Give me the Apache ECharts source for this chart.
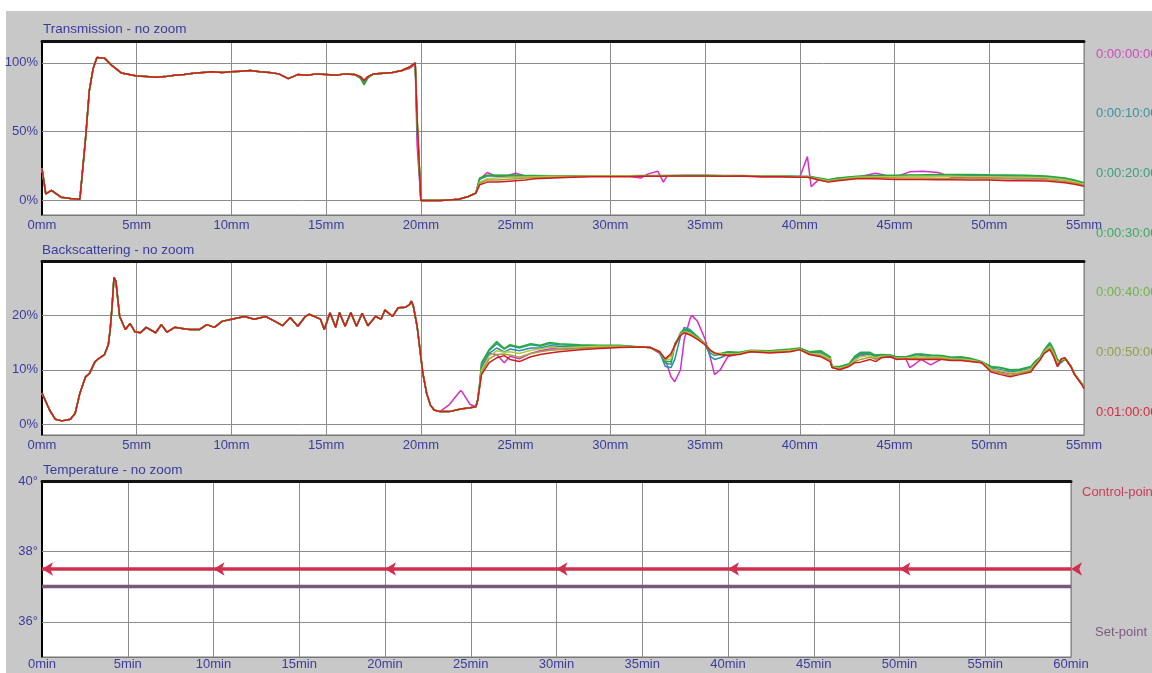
<!DOCTYPE html>
<html><head><meta charset="utf-8">
<script src="https://cdn.jsdelivr.net/npm/echarts@6/dist/echarts.min.js"></script>
<style>html,body{margin:0;padding:0;background:#fff}#c{width:1152px;height:673px}</style>
</head><body><div id="c"></div>
<script>
const TEXT_BLUE = '#3c3c9c';

const seriesNames = ['0:00:00:00','0:00:10:00','0:00:20:00','0:00:30:00','0:00:40:00','0:00:50:00','0:01:00:00'];
const lineColors = ['#d82cc8','#2a8ca8','#2aa08a','#28a83c','#b8c83c','#a0a040','#d01c1c'];
const legendColors = ['#d048c0','#3a92a0','#3aa07a','#3aaa64','#70b448','#92a048','#d8283c'];

// ---------- Transmission (%), positions in mm ----------
const transPosMm = [0,0.2,0.5,1,1.5,2,2.1,2.3,2.5,2.7,
 2.9,3.3,3.7,4.2,5,5.5,6,6.5,7,7.5,
 8,8.5,9,9.5,10,10.5,11,11.5,12,12.5,
 13,13.5,14,14.5,15,15.5,16,16.5,
 16.8,17,17.2,17.5,18,18.5,19,19.4,19.7,19.8,
 20,20.5,21,21.5,22,22.5,22.9,23.1,23.5,24,
 24.5,25,25.5,26,27,28,29,30,31,31.6,
 32,32.5,32.8,33,34,35,36,37,38,39,
 40,40.4,40.6,41,41.5,42,43,44,45,45.8,
 46.5,47.3,48,49,50,51,52,53,54,54.5,
 55];
// shared part (0 - 16.5 mm), identical for all runs
const transCommon = [22.8,4.4,7,2,1,0.5,0.8,45,80,96,
 104,103.5,98,92.6,90.5,90,89.5,90,91,91.5,
 92.5,93,93.5,93,93.5,94,94.5,93.5,93,92,
 88.5,91.5,91,92,91.5,91,92,91.5];
const trans0000 = [90,87.5,90,92,92.5,93,94.5,96,99,40,
 -0.5,-0.5,-0.5,0,0.5,2.5,5,15,20,17,
 17.5,19.5,17.5,17.3,17.3,17.3,17.3,17.3,17.3,16,
 19,21,13,17.5,17.5,17.6,17.2,17.3,17,17,
 16.8,31.6,9.6,15,14,15,16.5,19.5,16.5,20.5,
 21,20,16.5,16.5,16.3,16,16,15.8,14.5,13,
 11];
const trans0010 = [89.5,86,89.5,92,92.5,93,94.5,97,100,52,
 -0.5,-0.5,-0.5,0,0.5,2.5,5,15,17.5,17.5,
 17.5,17.6,17.5,17.5,17.4,17.4,17.5,17.5,17.5,17.5,
 17.5,17.5,17.5,17.5,17.7,17.7,17.4,17.5,17.2,17.2,
 16.9,16.9,16.6,15.5,14.3,15.5,16.8,17.2,17.4,17.6,
 17.7,17.8,17.7,17.6,17.4,17.2,17,16.6,15,13.5,
 11.5];
const trans0020 = [89,85,89,92,92.5,93,94.5,97,100,56,
 -0.5,-0.5,-0.5,0,0.5,2.5,5,15.5,17.8,17.8,
 17.8,17.8,17.6,17.6,17.5,17.5,17.6,17.6,17.6,17.6,
 17.6,17.6,17.6,17.6,17.8,17.8,17.6,17.6,17.3,17.3,
 17,17,16.8,15.8,14.6,15.8,17,17.5,17.7,17.9,
 18,18.1,18.1,18,17.8,17.6,17.4,17,15.5,14,
 12];
const trans0030 = [89,84,89,92,92.5,93,94.5,97,100,58,
 -0.5,-0.5,-0.5,0,0.5,2.5,5,16,18,18,
 18,18,17.8,17.8,17.6,17.6,17.7,17.7,17.7,17.8,
 17.8,17.8,17.8,17.8,18,18,17.8,17.8,17.5,17.5,
 17.3,17.3,17,16,14.8,16,17.2,17.8,18,18.2,
 18.3,18.5,18.5,18.5,18.3,18.2,18,17.5,16,14.5,
 12.5];
const trans0040 = [90,87,90,92,92.5,93,94.5,97,100,60,
 -0.5,-0.5,-0.5,0,0.5,2.5,5,13,15.5,16,
 16.3,16.6,16.8,17,17.2,17.3,17.4,17.4,17.4,17.5,
 17.5,17.5,17.5,17.6,17.7,17.7,17.4,17.6,17.2,17.2,
 16.8,16.8,16.4,15.2,13.8,15,16.5,17,17,17.2,
 17.2,17.2,17.2,17,17,16.8,16.6,16.2,14.8,13.3,
 11.5];
const trans0050 = [90,87,90,92,92.5,93,94.5,97,100,60,
 -0.5,-0.5,-0.5,0,0.5,2.5,5,12,14.5,14.5,
 15,15.5,16,16.3,16.6,17,17.2,17.2,17.2,17.3,
 17.4,17.4,17.4,17.5,17.6,17.6,17.3,17.5,17.1,17.1,
 16.6,16.6,16.2,14.8,13.4,14.5,16,16.3,16,16,
 16,15.8,15.8,15.6,15.5,15.2,15,14.8,13.5,12.3,
 10.8];
const trans0100 = [90,87,90,92,92.5,93,94.5,97,100,60,
 -0.5,-0.5,-0.5,0,0.5,2.5,5,11,13,13,
 13.5,14,14.5,15.5,16,16.5,17,17,17,17.2,
 17.3,17.3,17.3,17.4,17.5,17.5,17.2,17.5,17,17,
 16.5,16.5,16,14.5,13,14,15.5,15.5,15,15,
 15,14.8,14.8,14.5,14.5,14,14,13.8,12.5,11.5,
 10];

// ---------- Backscattering (%), positions in mm ----------
const backPosMm = [0,0.4,0.7,1.05,1.5,1.75,2,2.3,2.5,2.8,
 3.05,3.3,3.5,3.6,3.7,3.8,3.9,4.0,4.1,4.4,
 4.65,4.9,5.2,5.5,6.0,6.3,6.6,7.0,7.4,7.8,
 8.3,8.7,9.1,9.5,10,10.7,11.2,11.8,12.3,12.7,
 13.1,13.5,13.9,14.1,14.7,14.9,15.2,15.5,15.7,16.0,
 16.3,16.6,16.9,17.2,17.6,17.9,18.1,18.5,18.8,19.2,
 19.4,19.5,19.6,19.8,19.95,20.1,20.3,20.5,20.7,21,
 21.5,22.1,22.2,22.6,22.9,23.0,23.1,23.2,23.6,24.0,
 24.4,24.7,25.2,25.8,26.3,26.8,27.3,28.4,29.4,30.5,
 31.6,32.1,32.6,32.9,33.2,33.4,33.7,33.9,34.2,34.3,
 34.6,35.0,35.3,35.5,35.8,36.2,36.8,37.4,38.4,39.5,
 40,40.5,41.1,41.6,41.7,42.1,42.6,42.9,43.2,43.7,
 44,44.3,44.8,45.1,45.6,45.8,46.1,46.4,46.9,47.5,
 48,48.5,49,49.6,50.1,50.6,51.1,51.6,52.2,52.4,
 52.7,52.9,53.2,53.4,53.6,53.8,54,54.3,54.5,54.9,
 55];
// shared part (0 - 21 mm)
const backCommon = [5.7,2.6,0.9,0.6,0.9,2,5.7,8.7,9.3,11.5,
 12.2,12.8,14.6,17.4,21.7,27,26.3,23,19.8,17.4,
 18.5,17,16.8,17.8,16.8,18.3,16.9,17.8,17.6,17.4,
 17.4,18.3,17.8,18.9,19.3,19.8,19.3,19.8,18.9,18.1,
 19.6,18,19.8,20.2,19.3,17.4,20.5,17.8,20.5,18,
 20.5,18,20.4,18.1,19.8,19.3,21,19.8,21.4,21.5,
 22,22.6,21.7,18,13.7,9.4,5.7,3.5,2.6,2.3];
const back0000 = [3.6,6.2,5.8,3.6,3.2,4.4,6.9,10,13,12.8,
 11.3,12.5,12,13,13.5,13.8,13.9,14,14.1,14.2,
 14.2,14.1,13,11.9,8.7,7.8,10,15.6,19.3,20,
 18.9,15.6,11.9,9.1,10,12.4,13,13.4,13.2,13.5,
 13.8,13,13,12,10.5,10.3,10.8,11.8,12.5,13,
 12,12.4,12.3,12,12,10.4,11.1,11.9,10.9,12,
 11.9,11.9,11.7,11.3,10,9.6,9.3,9.5,10,11,
 12.1,13.3,14.3,12.5,10.6,11.5,12,10.7,9.2,7.3,
 6.6];
const back0010 = [2.3,2.8,2.9,3,3.2,4.5,7.1,10.5,13,14,
 13.3,13.8,13.5,14,14,14.4,14.3,14.2,14.2,14.3,
 14.2,14.1,13.2,10.6,10.4,11.9,16.1,17.8,17.4,17.2,
 16.1,14.6,12.4,11.9,12.2,12.8,13,13.4,13.3,13.6,
 13.9,13.1,13.2,12,10.5,10.4,10.9,12,12.8,12.9,
 12.4,12.6,12.5,12.2,12.2,12,12.4,12.6,12.3,12.3,
 12,12.1,11.8,11.4,10.3,10,9.6,9.8,10.2,11.2,
 12.2,13.4,14.5,13,11,11.3,12,10.7,9.2,7.3,
 6.6];
const back0020 = [2.3,2.8,2.9,3,3.2,4.5,7.3,11,13.5,14.8,
 13.8,14.4,14,14.6,14.3,14.8,14.6,14.4,14.4,14.4,
 14.2,14.1,13.3,11.2,11,14.3,16.8,17.5,17.2,16.9,
 16,14.7,13,12.6,12.8,13.2,13.1,13.5,13.4,13.7,
 13.9,13.2,13.3,12.2,10.6,10.5,11,12.3,13,13,
 12.6,12.7,12.6,12.3,12.3,12.4,12.7,12.8,12.6,12.5,
 12.2,12.3,12,11.4,10.5,10.3,9.9,10,10.5,11.4,
 12.3,13.6,14.8,13.5,11.7,11.6,12,10.7,9.2,7.3,
 6.6];
const back0030 = [2.3,2.8,2.9,3,3.2,4.6,7.5,11.3,13.7,15.2,
 13.9,14.6,14.2,14.8,14.5,15,14.8,14.6,14.5,14.5,
 14.2,14.1,13.3,11.5,11.5,14.8,16.5,17.3,17,16.8,
 16,14.8,13.5,13,13,13.3,13.2,13.6,13.5,13.8,
 14,13.3,13.5,12.4,10.6,10.6,11.1,12.5,13.2,13.2,
 12.7,12.8,12.7,12.4,12.4,12.6,12.9,12.9,12.7,12.6,
 12.3,12.4,12.1,11.5,10.6,10.4,10,10.1,10.6,11.5,
 12.4,13.7,15,13.7,11.9,11.5,12,10.8,9.3,7.4,
 6.7];
const back0040 = [2.3,2.8,2.9,3,3.2,4.4,7,10,12.5,13.5,
 13.2,13.3,13,13.6,13.8,14.2,14,14.2,14.3,14.3,
 14.2,14.1,13.3,11.8,12,14.3,16.5,17,16.7,16.5,
 15.8,14.7,13.4,13,12.9,12.9,13,13.5,13.3,13.6,
 13.8,13,12.9,12,10.5,10.3,10.8,11.8,12.4,12.6,
 12.2,12.5,12.5,12.1,12.2,12.2,12.4,12.4,12.3,12.3,
 12,12,11.8,11.4,10.1,9.8,9.4,9.6,10.1,11,
 12.1,13.3,14.3,13,11.3,11.8,12.1,10.7,9.2,7.3,
 6.6];
const back0050 = [2.3,2.8,2.9,3,3.2,4.4,6.9,9.5,12,12.8,
 12.9,12.7,12.3,13,13.3,13.6,13.7,13.9,14.1,14.2,
 14.2,14.1,13.3,11.9,12.6,14.4,16.4,16.9,16.5,16.3,
 15.7,14.6,13.5,13,12.8,12.7,12.9,13.4,13.2,13.4,
 13.7,12.9,12.6,11.8,10.4,10.1,10.7,11.5,11.9,12.3,
 11.9,12.3,12.5,12,12.1,12,12.1,12.1,12.1,12.1,
 11.8,11.8,11.6,11.3,9.8,9.4,9,9.3,9.8,10.8,
 12,13.1,14,12.6,10.6,12,12.2,10.6,9.1,7.2,
 6.5];
const back0100 = [2.3,2.8,2.9,3,3.2,4.4,6.9,9.1,11.3,12.2,
 12.6,11.9,11.5,12.4,12.8,13.1,13.3,13.7,13.9,14.1,
 14.2,14.1,13.3,12,13,14.5,16.3,16.8,16.4,16.2,
 15.6,14.6,13.5,13.1,12.8,12.6,12.8,13.3,13.1,13.3,
 13.7,12.8,12.4,11.5,10.4,10,10.6,11.3,11.4,11.9,
 11.5,12.2,12.4,11.9,12,11.9,11.9,11.9,11.9,11.9,
 11.7,11.7,11.5,11.3,9.6,9.1,8.7,9.1,9.6,10.6,
 11.9,13,13.7,12.4,10.6,12,12.2,10.6,9.1,7.2,
 6.5];

// ---------- Temperature ----------
const tempMinutes = [0,10,20,30,40,50,60];
const controlPoint = [37.5,37.5,37.5,37.5,37.5,37.5,37.5];
const setPoint = [37.0,37.0,37.0,37.0,37.0,37.0,37.0];

// ---------- tick labels ----------
const transTicks = [0,50,100];
const backTicks = [0,10,20];
const tempTicks = [36,38,40];

const FONT = "'Liberation Sans', Arial, sans-serif";
const TITLE_SIZE = 13.5;
const TICK_SIZE = 13;
const LEGEND_SIZE = 13;

const transTails = [trans0000,trans0010,trans0020,trans0030,trans0040,trans0050,trans0100];
const backTails = [back0000,back0010,back0020,back0030,back0040,back0050,back0100];

const pair = (xs, ys) => xs.map((x, i) => [x, ys[i]]);

const labelStyle = {color: TEXT_BLUE, fontFamily: FONT, fontSize: TICK_SIZE};

function gridLines(vals) {
  return {
    silent: true, symbol: ['none','none'], z: 1, animation: false,
    label: {show: false},
    lineStyle: {color: '#8c8c8c', width: 1, type: 'solid'},
    emphasis: {disabled: true},
    data: vals.map(v => ({yAxis: v}))
  };
}

function xBottom(gi, max, unit, margin) {
  return {
    gridIndex: gi, type: 'value', min: 0, max: max, interval: 5, position: 'bottom',
    axisLine: {show: true, onZero: false, lineStyle: {color: '#777', width: 1}},
    axisTick: {show: false},
    splitLine: {show: true, lineStyle: {color: '#8c8c8c', width: 1}},
    axisLabel: Object.assign({formatter: v => v + unit, margin: margin, showMinLabel: true, showMaxLabel: true}, labelStyle)
  };
}
function xTop(gi, max) {
  return {
    gridIndex: gi, type: 'value', min: 0, max: max, position: 'top',
    axisLine: {show: true, onZero: false, lineStyle: {color: '#111', width: 3}},
    axisTick: {show: false}, axisLabel: {show: false}, splitLine: {show: false}
  };
}
function yLeft(gi, min, max, ticks, unit) {
  return {
    gridIndex: gi, type: 'value', min: min, max: max,
    axisLine: {show: true, onZero: false, lineStyle: {color: '#000', width: 2}},
    axisTick: {show: false},
    splitLine: {show: false},
    axisLabel: Object.assign({customValues: ticks, formatter: v => v + unit, margin: 4,
      verticalAlign: 'middle', padding: [0,0,8,0]}, labelStyle)
  };
}

const series = [];
seriesNames.forEach((name, i) => {
  const s = {
    name: name, type: 'line', xAxisIndex: 0, yAxisIndex: 0,
    data: pair(transPosMm, transCommon.concat(transTails[i])),
    showSymbol: false, symbol: 'none', animation: false,
    lineStyle: {color: lineColors[i], width: 1.5}, itemStyle: {color: lineColors[i]},
    emphasis: {disabled: true}
  };
  if (i === 0) s.markLine = gridLines(transTicks);
  series.push(s);
});
seriesNames.forEach((name, i) => {
  const s = {
    name: name, type: 'line', xAxisIndex: 2, yAxisIndex: 1,
    data: pair(backPosMm, backCommon.concat(backTails[i])),
    showSymbol: false, symbol: 'none', animation: false,
    lineStyle: {color: lineColors[i], width: 1.5}, itemStyle: {color: lineColors[i]},
    emphasis: {disabled: true}
  };
  if (i === 0) s.markLine = gridLines(backTicks);
  series.push(s);
});
series.push({
  name: 'Set-point', type: 'line', xAxisIndex: 4, yAxisIndex: 2,
  data: pair(tempMinutes, setPoint), showSymbol: false, symbol: 'none', animation: false,
  lineStyle: {color: '#7a5878', width: 3.5}, itemStyle: {color: '#7a5878'},
  emphasis: {disabled: true},
  markLine: gridLines([36, 38])
});
series.push({
  name: 'Control-point', type: 'line', xAxisIndex: 4, yAxisIndex: 2,
  data: pair(tempMinutes, controlPoint), symbol: 'arrow', symbolSize: [10, 11], symbolRotate: 90,
  showSymbol: true, animation: false,
  lineStyle: {color: '#d03050', width: 3.5}, itemStyle: {color: '#d03050'},
  emphasis: {disabled: true}
});

const titleStyle = {color: TEXT_BLUE, fontFamily: FONT, fontSize: TITLE_SIZE, fontWeight: 'normal'};
const legendText = {fontSize: LEGEND_SIZE, fontFamily: FONT, lineHeight: 14};

const option = {
  backgroundColor: '#ffffff',
  animation: false,
  textStyle: {fontFamily: FONT},
  graphic: [{type: 'rect', silent: true, z: -10, shape: {x: 6, y: 11, width: 1146, height: 662}, style: {fill: '#c8c8c8'}}],
  title: [
    {text: 'Transmission - no zoom', left: 43, top: 22, padding: 0, textStyle: titleStyle},
    {text: 'Backscattering - no zoom', left: 42, top: 243, padding: 0, textStyle: titleStyle},
    {text: 'Temperature - no zoom', left: 43, top: 463, padding: 0, textStyle: titleStyle}
  ],
  legend: [
    {data: seriesNames.map((n, i) => ({name: n, textStyle: {color: legendColors[i]}})),
     orient: 'vertical', left: 1091, top: 47, padding: 0, itemGap: 45.7, itemWidth: 0, itemHeight: 14,
     icon: 'none', selectedMode: false, textStyle: legendText},
    {data: [{name: 'Control-point', textStyle: {color: '#d03a58'}}], orient: 'vertical', left: 1077, top: 485, padding: 0,
     itemWidth: 0, itemHeight: 14, icon: 'none', selectedMode: false, textStyle: legendText},
    {data: [{name: 'Set-point', textStyle: {color: '#7e5a80'}}], orient: 'vertical', left: 1090, top: 625, padding: 0,
     itemWidth: 0, itemHeight: 14, icon: 'none', selectedMode: false, textStyle: legendText}
  ],
  grid: [
    {left: 42, top: 41, width: 1042, height: 174, show: true, backgroundColor: '#fff', borderColor: '#777', borderWidth: 1},
    {left: 42, top: 261, width: 1042, height: 174, show: true, backgroundColor: '#fff', borderColor: '#777', borderWidth: 1},
    {left: 42, top: 481, width: 1029, height: 176, show: true, backgroundColor: '#fff', borderColor: '#777', borderWidth: 1}
  ],
  xAxis: [
    xBottom(0, 55, 'mm', 4), xTop(0, 55),
    xBottom(1, 55, 'mm', 4), xTop(1, 55),
    xBottom(2, 60, 'min', 1), xTop(2, 60)
  ],
  yAxis: [
    yLeft(0, -11, 116, transTicks, '%'),
    yLeft(1, -2, 30, backTicks, '%'),
    yLeft(2, 35, 40, tempTicks, '°')
  ],
  series: series
};

const chart = echarts.init(document.getElementById('c'), null, {renderer: 'canvas'});
chart.setOption(option);
</script>
</body></html>
